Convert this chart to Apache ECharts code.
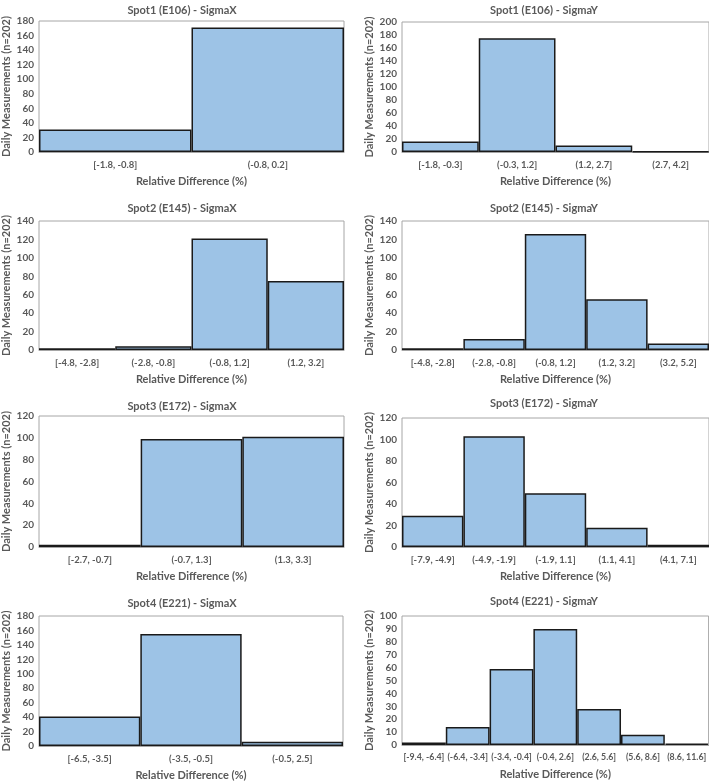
<!DOCTYPE html>
<html>
<head>
<meta charset="utf-8">
<script src="https://cdn.jsdelivr.net/npm/echarts@6/dist/echarts.min.js"></script>
<style>
html,body{margin:0;padding:0;background:#fff;}
#chart{width:709px;height:782px;}
</style>
</head>
<body>
<div id="chart"></div>
<script>
// ---- Data ----
const titles = [
  "Spot1 (E106) - SigmaX", "Spot1 (E106) - SigmaY",
  "Spot2 (E145) - SigmaX", "Spot2 (E145) - SigmaY",
  "Spot3 (E172) - SigmaX", "Spot3 (E172) - SigmaY",
  "Spot4 (E221) - SigmaX", "Spot4 (E221) - SigmaY"
];
const cats1X = ["[-1.8, -0.8]", "(-0.8, 0.2]"];
const vals1X = [31, 171];
const cats1Y = ["[-1.8, -0.3]", "(-0.3, 1.2]", "(1.2, 2.7]", "(2.7, 4.2]"];
const vals1Y = [16, 175, 10, 1];
const cats2X = ["[-4.8, -2.8]", "(-2.8, -0.8]", "(-0.8, 1.2]", "(1.2, 3.2]"];
const vals2X = [2, 4, 121, 75];
const cats2Y = ["[-4.8, -2.8]", "(-2.8, -0.8]", "(-0.8, 1.2]", "(1.2, 3.2]", "(3.2, 5.2]"];
const vals2Y = [2, 12, 126, 55, 7];
const cats3X = ["[-2.7, -0.7]", "(-0.7, 1.3]", "(1.3, 3.3]"];
const vals3X = [2, 99, 101];
const cats3Y = ["[-7.9, -4.9]", "(-4.9, -1.9]", "(-1.9, 1.1]", "(1.1, 4.1]", "(4.1, 7.1]"];
const vals3Y = [29, 103, 50, 18, 2];
const cats4X = ["[-6.5, -3.5]", "(-3.5, -0.5]", "(-0.5, 2.5]"];
const vals4X = [41, 155, 6];
const cats4Y = ["[-9.4, -6.4]", "(-6.4, -3.4]", "(-3.4, -0.4]", "(-0.4, 2.6]", "(2.6, 5.6]", "(5.6, 8.6]", "(8.6, 11.6]"];
const vals4Y = [2, 14, 59, 90, 28, 8, 1];
const yMaxes = [180, 200, 140, 140, 120, 120, 180, 100];
const yIntervals = [20, 20, 20, 20, 20, 20, 20, 10];
const xAxisName = "Relative Difference (%)";
const yAxisName = "Daily Measurements (n=202)";

const allCats = [cats1X, cats1Y, cats2X, cats2Y, cats3X, cats3Y, cats4X, cats4Y];
const allVals = [vals1X, vals1Y, vals2X, vals2Y, vals3X, vals3Y, vals4X, vals4Y];

// ---- Layout ----
const grids = [
  {left: 38, top: 21, width: 306, height: 131},
  {left: 402, top: 22, width: 310, height: 130},
  {left: 38, top: 221, width: 306, height: 129},
  {left: 402, top: 221, width: 310, height: 129},
  {left: 37, top: 416, width: 307, height: 131},
  {left: 402, top: 418, width: 310, height: 129},
  {left: 38, top: 616, width: 305, height: 130},
  {left: 402, top: 616, width: 310, height: 129}
];
const titlePos = [
  [177, 0], [539, 0], [177, 198], [539, 198], [177, 396], [539, 393], [177, 593], [539, 591]
];
const xLabelSizes = [9.5, 9.5, 9.5, 9.5, 9.5, 9.5, 9.5, 8.8];
const font = "Lato, 'Open Sans', sans-serif";
const textColor = '#595959';

const option = {
  backgroundColor: '#ffffff',
  animation: false,
  title: titles.map((t, i) => ({
    text: t,
    left: titlePos[i][0], top: titlePos[i][1],
    textAlign: 'center',
    textStyle: {fontFamily: font, fontSize: 11, fontWeight: 'bold', color: textColor}
  })),
  grid: grids.map(g => Object.assign({show: true, borderColor: '#a6a6a6', borderWidth: 1, backgroundColor: 'transparent'}, g)),
  xAxis: allCats.map((c, i) => ({
    type: 'category', gridIndex: i, data: c,
    name: xAxisName, nameLocation: 'middle', nameGap: 24,
    nameTextStyle: {fontFamily: font, fontSize: 11, fontWeight: 'bold', color: textColor},
    axisLine: {show: true, lineStyle: {color: '#a6a6a6', width: 1}},
    axisTick: {show: false},
    axisLabel: {fontFamily: font, fontSize: xLabelSizes[i], fontWeight: 'bold', color: textColor, margin: 8, interval: 0}
  })),
  yAxis: allVals.map((v, i) => ({
    type: 'value', gridIndex: i, min: 0, max: yMaxes[i], interval: yIntervals[i],
    name: yAxisName, nameLocation: 'middle', nameGap: 27,
    nameTextStyle: {fontFamily: font, fontSize: 11, fontWeight: 'bold', color: textColor},
    axisLine: {show: false}, axisTick: {show: false}, splitLine: {show: false},
    axisLabel: {fontFamily: font, fontSize: 10, fontWeight: 'bold', color: textColor, margin: 5}
  })),
  series: allVals.map((v, i) => ({
    type: 'bar', xAxisIndex: i, yAxisIndex: i, data: v,
    barCategoryGap: '0%',
    itemStyle: {color: '#9DC3E6', borderColor: '#1a1a1a', borderWidth: 1.5}
  }))
};

const chart = echarts.init(document.getElementById('chart'), null, {renderer: 'canvas'});
chart.setOption(option);
</script>
</body>
</html>
